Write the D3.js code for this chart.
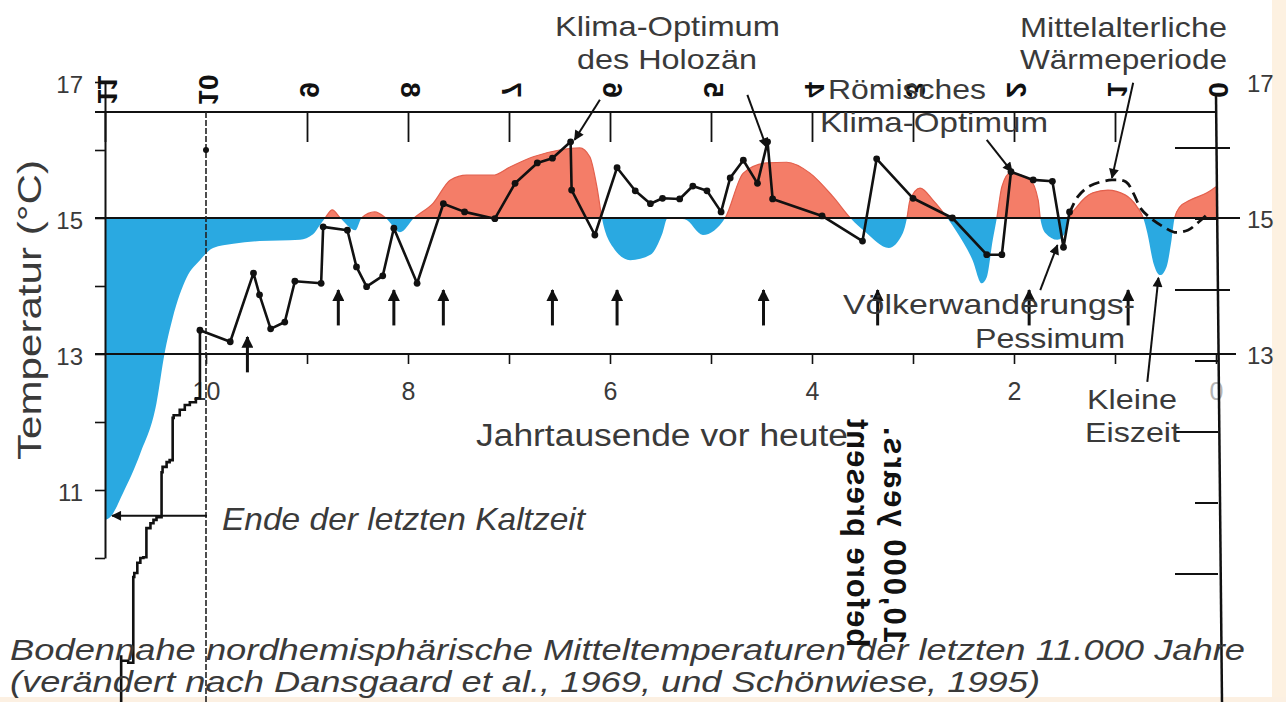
<!DOCTYPE html>
<html><head><meta charset="utf-8">
<script src="https://cdn.jsdelivr.net/npm/d3@7"></script>
<style>
html,body{margin:0;padding:0;background:#fff;}
svg{display:block;}
text{font-family:"Liberation Sans",Arial,Helvetica,sans-serif;}
</style></head><body>
<svg id="c" width="1286" height="702"></svg>
<script>
// ---------------- data ----------------
const kyTicks = [10,9,8,7,6,5,4,3,2,1,0];
const kyLabels = [10,8,6,4,2,0];
const tempTicks = [17,16,15,14,13,12,11,10];
const tempLabels = [17,15,13,11];
const rightTempLabels = [17,15,13];
const topAxisLabels = [11,10,9,8,7,6,5,4,3,2,1,0];
const overlayMajorTicks = [0,1,2,3];
const overlayMinorTicks = [0.5,1.5,2.5];

// smoothed temperature curve (red above / blue below 15 °C), ky BP and °C
const curveKy = [11.00,10.95,10.82,10.65,10.49,10.41,10.33,10.19,10.06,9.93,9.73,9.47,9.07,8.94,8.87,8.82,8.75,8.67,8.52,8.46,8.33,8.22,8.08,7.94,7.75,7.58,7.42,7.16,6.99,6.76,6.50,6.30,6.20,6.13,6.08,5.97,5.80,5.60,5.48,5.43,5.26,5.08,4.86,4.68,4.45,4.25,4.02,3.79,3.62,3.46,3.24,3.10,3.06,3.03,2.93,2.80,2.66,2.56,2.41,2.32,2.27,2.21,2.17,2.12,2.04,1.84,1.76,1.74,1.69,1.57,1.48,1.45,1.38,1.22,1.07,0.90,0.78,0.72,0.68,0.62,0.55,0.49,0.44,0.41,0.36,0.26,0.09,0.00];
const curveT  = [10.56,10.60,10.96,11.54,12.28,13.01,13.53,14.13,14.38,14.56,14.62,14.66,14.68,14.76,14.90,15.00,15.12,15.00,14.82,15.00,15.09,15.00,14.79,15.00,15.22,15.56,15.63,15.63,15.75,15.90,16.00,16.03,15.90,15.46,15.00,14.57,14.38,14.46,14.78,15.00,14.98,14.75,15.00,15.66,15.81,15.82,15.66,15.31,15.00,14.78,14.56,14.78,15.00,15.26,15.44,15.26,15.00,14.78,14.38,14.04,14.13,14.68,15.00,15.46,15.66,15.56,15.26,15.00,14.78,14.68,14.82,15.00,15.16,15.37,15.41,15.34,15.16,15.00,14.78,14.34,14.16,14.28,14.68,15.00,15.16,15.26,15.37,15.46];

// measured series (line with dots)
const seriesKy = [10.06,9.76,9.53,9.47,9.36,9.22,9.12,8.86,8.84,8.60,8.51,8.41,8.25,8.14,7.91,7.65,7.44,7.14,6.94,6.72,6.57,6.39,6.38,6.15,5.93,5.75,5.60,5.48,5.31,5.18,5.04,4.90,4.81,4.68,4.54,4.44,4.39,3.90,3.50,3.36,3.00,2.61,2.27,2.12,2.03,1.81,1.62,1.51,1.45];
const seriesT  = [13.35,13.18,14.19,13.87,13.37,13.47,14.07,14.04,14.87,14.82,14.28,13.99,14.15,14.85,14.04,15.21,15.09,14.99,15.51,15.81,15.88,16.12,15.41,14.75,15.74,15.40,15.21,15.29,15.28,15.47,15.40,15.09,15.59,15.85,15.51,16.12,15.28,15.03,14.66,15.87,15.29,15.00,14.46,14.46,15.68,15.56,15.54,14.57,15.09];

// last millennium (dashed)
const dashedKy = [1.45,1.37,1.25,1.03,0.89,0.82,0.74,0.65,0.52,0.41,0.28,0.18,0.06];
const dashedT  = [15.07,15.31,15.47,15.56,15.53,15.37,15.13,15.00,14.87,14.79,14.82,14.93,15.09];

// late-glacial stepped rise
const stepKy = [10.06,10.06,10.10,10.16,10.21,10.26,10.32,10.33,10.36,10.39,10.43,10.44,10.49,10.52,10.55,10.59,10.59,10.62,10.65,10.68,10.71,10.72,10.77,10.84,10.84];
const stepT  = [13.35,12.35,12.29,12.25,12.18,12.10,12.06,11.44,11.41,11.34,11.26,10.60,10.56,10.51,10.44,10.37,10.01,10.00,9.93,9.78,9.72,8.46,8.49,8.57,7.70];

// event arrows (ky BP, tip temperature)
const eventKy   = [9.59,8.69,8.14,7.65,6.57,5.93,4.48,3.35,1.85,0.87];
const eventTipT = [13.25,13.94,13.94,13.94,13.94,13.94,13.94,13.94,13.94,13.94];

// annotation arrows (ky, °C)
const annotFromKy = [6.10,4.64,0.82,2.27,1.74,0.68,9.99];
const annotFromT  = [16.74,16.81,16.99,16.15,13.94,12.59,10.62];
const annotToKy   = [6.35,4.45,1.03,2.02,1.57,0.57,10.93];
const annotToT    = [16.15,16.04,15.59,15.68,14.60,14.12,10.62];

// ---------------- drawing ----------------
const W = 1286, H = 702;
const svg = d3.select("#c");
const x = d3.scaleLinear().domain([11,0]).range([105,1216]);
const y = d3.scaleLinear().domain([17,10]).range([82,558]);
const yOver = d3.scaleLinear().domain([0,3]).range([148,574]);
const INK = "#111", GREY = "#3a3a3a";

svg.append("rect").attr("width",W).attr("height",H).attr("fill","#fff");
svg.append("rect").attr("x",1272).attr("y",0).attr("width",14).attr("height",H).attr("fill","#fdf1e1");
svg.append("rect").attr("x",0).attr("y",697).attr("width",W).attr("height",5).attr("fill","#fcf0e2");

const defs = svg.append("defs");
defs.append("clipPath").attr("id","above").append("rect").attr("x",0).attr("y",0).attr("width",W).attr("height",y(15));
defs.append("clipPath").attr("id","below").append("rect").attr("x",0).attr("y",y(15)).attr("width",W).attr("height",H);
function marker(id,w,h){
  defs.append("marker").attr("id",id).attr("viewBox","0 0 10 10").attr("refX",9).attr("refY",5)
    .attr("markerWidth",w).attr("markerHeight",h).attr("markerUnits","userSpaceOnUse").attr("orient","auto")
    .append("path").attr("d","M0,0L10,5L0,10Z").attr("fill",INK);
}
marker("ah",12,10); marker("ahBig",13,12);

// anomaly fill
const cpts = curveKy.map((k,i)=>({k,t:curveT[i]}));
const area = d3.area().x(d=>x(d.k)).y0(y(15)).y1(d=>y(d.t)).curve(d3.curveMonotoneX);
const cline = d3.line().x(d=>x(d.k)).y(d=>y(d.t)).curve(d3.curveMonotoneX);
svg.append("path").attr("d",area(cpts)).attr("fill","#f47d68").attr("clip-path","url(#above)");
svg.append("path").attr("d",cline(cpts)).attr("fill","none").attr("stroke","#e3604d").attr("stroke-width",1.2).attr("clip-path","url(#above)");
svg.append("path").attr("d",area(cpts)).attr("fill","#2aa9e1").attr("clip-path","url(#below)");

// horizontal reference lines
svg.append("line").attr("x1",95).attr("x2",1240).attr("y1",y(15)).attr("y2",y(15)).attr("stroke",INK).attr("stroke-width",2);
svg.append("line").attr("x1",95).attr("x2",1236).attr("y1",y(13)).attr("y2",y(13)).attr("stroke",INK).attr("stroke-width",2);

// left axis
const gl = svg.append("g").attr("transform",`translate(${x(11)},0)`)
  .call(d3.axisLeft(y).tickValues(tempTicks).tickSize(10).tickSizeOuter(0).tickPadding(12)
    .tickFormat(d=>tempLabels.includes(d)?d:""));
gl.select(".domain").attr("stroke",INK).attr("stroke-width",2);
gl.selectAll(".tick line").attr("stroke",INK).attr("stroke-width",1.6);
gl.selectAll(".tick text").attr("font-size",24).attr("fill",GREY).attr("dy","0.45em")
  .style("font-family","Liberation Sans, Arial, sans-serif");

// bottom axis
const gb = svg.append("g").attr("transform",`translate(0,${y(13)})`)
  .call(d3.axisBottom(x).tickValues(kyTicks).tickSize(10).tickSizeOuter(0).tickPadding(18)
    .tickFormat(d=>kyLabels.includes(d)?d:""));
gb.select(".domain").remove();
gb.selectAll(".tick line").attr("stroke",INK).attr("stroke-width",1.6);
gb.selectAll(".tick text").attr("font-size",25).attr("fill",d=>d===0?"#b5b5b5":GREY)
  .style("font-family","Liberation Sans, Arial, sans-serif");

// right temperature labels
svg.append("g").selectAll("text").data(rightTempLabels).join("text")
  .attr("x",1247).attr("y",d=>y(d)).attr("dy","0.4em").attr("font-size",24).attr("fill",GREY).text(d=>d);

// overlaid chart frame (top axis + right axis)
svg.append("line").attr("x1",95).attr("x2",x(0)).attr("y1",112).attr("y2",112).attr("stroke",INK).attr("stroke-width",2);
const gt = svg.append("g").attr("transform","translate(0,112)")
  .call(d3.axisBottom(x).tickValues(topAxisLabels.filter(d=>d!==10 && d!==0)).tickSize(30).tickSizeOuter(0).tickFormat(""));
gt.select(".domain").remove();
gt.selectAll(".tick line").attr("stroke",INK).attr("stroke-width",1.8);
svg.append("g").selectAll("text").data(topAxisLabels).join("text")
  .attr("transform",d=>`matrix(0,-1,-1,0,${x(d)+3},90)`)
  .attr("text-anchor","middle").attr("dy","0.35em")
  .attr("font-size",28).attr("font-weight","bold").attr("fill",INK).text(d=>d);
svg.append("line").attr("x1",x(0)).attr("x2",x(0)+6).attr("y1",95).attr("y2",H).attr("stroke",INK).attr("stroke-width",2.5);
svg.append("g").selectAll("line").data(overlayMajorTicks).join("line")
  .attr("x1",1175).attr("x2",d=>d<2?1230:1218).attr("y1",d=>yOver(d)).attr("y2",d=>yOver(d))
  .attr("stroke",INK).attr("stroke-width",2);
svg.append("g").selectAll("line").data(overlayMinorTicks).join("line")
  .attr("x1",1195).attr("x2",1218).attr("y1",d=>yOver(d)).attr("y2",d=>yOver(d))
  .attr("stroke",INK).attr("stroke-width",2);

// 10 ky marker line
svg.append("line").attr("x1",x(10)).attr("x2",x(10)).attr("y1",112).attr("y2",H)
  .attr("stroke","#222").attr("stroke-width",1.6).attr("stroke-dasharray","6,2");
svg.append("circle").attr("cx",x(10)).attr("cy",y(16)).attr("r",3).attr("fill",INK);

// stepped rise
const spts = stepKy.map((k,i)=>({k,t:stepT[i]}));
svg.append("path").attr("d",d3.line().x(d=>x(d.k)).y(d=>y(d.t)).curve(d3.curveStepAfter)(spts))
  .attr("fill","none").attr("stroke",INK).attr("stroke-width",2.6);

// measured series
const pts = seriesKy.map((k,i)=>({k,t:seriesT[i]}));
svg.append("path").attr("d",d3.line().x(d=>x(d.k)).y(d=>y(d.t))(pts))
  .attr("fill","none").attr("stroke",INK).attr("stroke-width",2.6).attr("stroke-linejoin","round");
svg.append("g").selectAll("circle").data(pts).join("circle")
  .attr("cx",d=>x(d.k)).attr("cy",d=>y(d.t)).attr("r",3.4).attr("fill",INK);

// dashed last millennium
const dpts = dashedKy.map((k,i)=>({k,t:dashedT[i]}));
svg.append("path").attr("d",d3.line().x(d=>x(d.k)).y(d=>y(d.t)).curve(d3.curveCatmullRom)(dpts))
  .attr("fill","none").attr("stroke",INK).attr("stroke-width",2.8).attr("stroke-dasharray","11,6");

// event arrows
svg.append("g").selectAll("line").data(eventKy).join("line")
  .attr("x1",d=>x(d)).attr("x2",d=>x(d))
  .attr("y1",(d,i)=>y(eventTipT[i]-0.52)).attr("y2",(d,i)=>y(eventTipT[i]))
  .attr("stroke",INK).attr("stroke-width",3).attr("marker-end","url(#ahBig)");

// annotation arrows
svg.append("g").selectAll("line").data(annotFromKy).join("line")
  .attr("x1",d=>x(d)).attr("y1",(d,i)=>y(annotFromT[i]))
  .attr("x2",(d,i)=>x(annotToKy[i])).attr("y2",(d,i)=>y(annotToT[i]))
  .attr("stroke",INK).attr("stroke-width",2).attr("marker-end","url(#ah)");

// labels
function label(t,xx,yy,len,size,opt={}){
  const el = svg.append("text").attr("x",xx).attr("y",yy).attr("font-size",size)
    .attr("fill",opt.fill||GREY).attr("textLength",len).attr("lengthAdjust","spacingAndGlyphs").text(t);
  if(opt.italic) el.attr("font-style","italic");
  return el;
}
label("Klima-Optimum",555,36,225,28);
label("des Holozän",577,69,180,28);
label("Mittelalterliche",1020,37,207,28);
label("Wärmeperiode",1020,69,207,28);
label("Römisches",828,99,158,28);
label("Klima-Optimum",820,132,228,28);
label("Völkerwanderungs-",843,314,292,28);
label("Pessimum",975,348,150,28);
label("Kleine",1087,409,90,28);
label("Eiszeit",1085,442,95,28);
label("Jahrtausende vor heute",476,446,372,31);
label("Ende der letzten Kaltzeit",222,530,363,32,{italic:true});
label("Bodennahe nordhemisphärische Mitteltemperaturen der letzten 11.000 Jahre",10,660,1235,30,{italic:true});
label("(verändert nach Dansgaard et al., 1969, und Schönwiese, 1995)",10,692,1030,30,{italic:true});

svg.append("text").attr("transform","translate(41,310) rotate(-90)").attr("text-anchor","middle")
  .attr("font-size",34).attr("fill",GREY).attr("textLength",300).attr("lengthAdjust","spacingAndGlyphs")
  .text("Temperatur (°C)");

// mirrored vertical text of the overlaid chart
svg.append("text").attr("transform","matrix(0,-1,-1,0,847,418)").attr("text-anchor","end")
  .attr("font-size",31).attr("font-weight","bold").attr("letter-spacing",1).attr("fill",INK).text("before present");
svg.append("text").attr("transform","matrix(0,-1,-1,0,884,425)").attr("text-anchor","end")
  .attr("font-size",31).attr("font-weight","bold").attr("letter-spacing",2).attr("fill",INK).text("10,000 years.");
</script>
</body></html>
